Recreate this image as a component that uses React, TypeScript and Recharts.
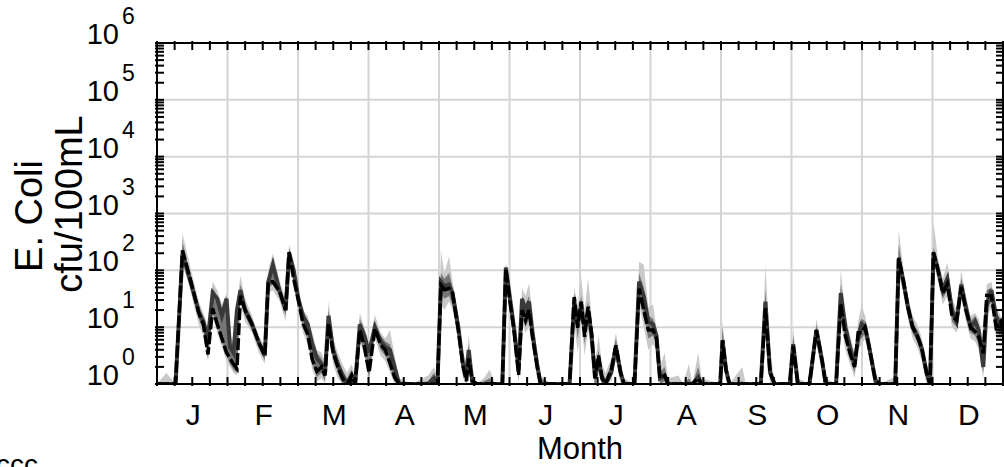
import { ComposedChart, Line, Area, XAxis, YAxis, CartesianGrid } from 'recharts'

const FONT = '"Liberation Sans", Arial, Helvetica, sans-serif'
const DAYS_IN_YEAR = 365

const monthLabels = ['J', 'F', 'M', 'A', 'M', 'J', 'J', 'A', 'S', 'O', 'N', 'D']
const yDecades = [0, 1, 2, 3, 4, 5, 6]

// day of year
const days = [
  0, 4, 8, 11, 13, 15, 18, 20, 22, 24,
  26, 28, 30, 31.5, 33, 34.5, 36, 38, 41, 44,
  46.5, 48, 50, 53, 55.5, 57, 59, 61, 63, 65,
  67, 69, 71, 72.5, 74, 76, 78, 80, 82, 84,
  85.5, 87.5, 89.5, 91.5, 94, 96.5, 98.5, 100.5, 102.5, 104.5,
  110, 117, 119.5, 121, 122.5, 124, 126, 127.5, 130, 132,
  133.5, 134.5, 136, 138, 141, 143.5, 146, 149, 150.5, 152,
  154, 156, 157.5, 159, 160.5, 162, 164, 165.5, 170, 178,
  180, 181.5, 183, 184.5, 186, 187.5, 189, 190.5, 192, 193.5,
  196, 198, 200, 201.5, 206, 208, 210, 212, 214, 215.5,
  217, 219, 220.5, 225, 227, 229.5, 231, 233.5, 235, 243,
  244, 245.5, 247, 252.5, 254, 260.5, 262.5, 264.5, 266.5, 273,
  274.5, 276.5, 281.5, 284.5, 287, 288.5, 293, 295, 297, 299,
  301, 302.5, 304, 305.5, 307.5, 310, 312, 317, 318.5, 320,
  322, 324, 326, 328, 330, 332, 333.5, 335, 337, 339,
  341, 343, 345, 347, 349, 351, 353, 354.5, 356.5, 358,
  360, 362, 364, 365,
]

// log10(cfu/100mL)
const blackLine = [
  0, 0, 0, 2.35, 2.05, 1.75, 1.25, 1.05, 0.52, 1.33,
  1.05, 0.8, 0.55, 0.45, 0.35, 0.27, 1.55, 1.3, 1.05, 0.72,
  0.5, 1.8, 1.8, 1.62, 1.3, 2.32, 1.85, 1.47, 1.06, 0.88,
  0.43, 0.22, 0.3, 0.15, 1.06, 0.55, 0.3, 0.1, 0, 0.15,
  0, 0.95, 0.65, 0.2, 0.97, 0.69, 0.6, 0.37, 0.12, 0,
  0, 0, 0, 0, 1.74, 1.66, 1.68, 1.6, 0.95, 0.31,
  0.05, 0.45, 0.05, 0, 0, 0, 0, 0, 2.03, 1.53,
  0.95, 0.16, 1.3, 1.12, 1.3, 0.83, 0.31, 0, 0, 0,
  1.53, 0.99, 1.45, 0.83, 1.36, 0.9, 0.1, 0.5, 0.1, 0,
  0.25, 0.68, 0.2, 0, 0, 1.68, 1.3, 0.95, 0.95, 0.8,
  0.1, 0.15, 0, 0, 0, 0, 0, 0.1, 0, 0,
  0.77, 0.25, 0, 0, 0, 0, 1.33, 0.2, 0, 0,
  0.67, 0, 0, 0.95, 0.4, 0, 0, 1.41, 0.85, 0.54,
  0.3, 0.9, 0.9, 1.0, 0.6, 0.05, 0, 0, 0, 2.22,
  1.82, 1.35, 1.0, 0.85, 0.62, 0.2, 0, 2.32, 2.0, 1.6,
  1.76, 1.2, 1.12, 1.71, 1.3, 1.0, 0.92, 0.83, 0.54, 1.56,
  1.55, 1.0, 1.1, 0.95,
]

const grayLine = [
  0, 0, 0, 2.3, 2.0, 1.72, 1.28, 1.1, 0.8, 1.6,
  1.5, 1.2, 1.5, 0.65, 0.55, 1.3, 1.65, 1.3, 1.05, 0.72,
  0.5, 1.8, 2.1, 1.62, 1.3, 2.3, 2.0, 1.5, 1.2, 1.05,
  0.7, 0.45, 0.35, 0.2, 1.2, 0.6, 0.35, 0.15, 0, 0.15,
  0, 1.05, 0.85, 0.55, 1.0, 0.75, 0.65, 0.6, 0.3, 0,
  0, 0, 0.1, 0, 1.8, 1.72, 1.75, 1.6, 1.0, 0.35,
  0.2, 0.6, 0.05, 0, 0, 0, 0, 0, 2.05, 1.6,
  1.0, 0.25, 1.5, 1.3, 1.45, 0.9, 0.35, 0, 0, 0,
  1.45, 1.05, 1.4, 0.95, 1.3, 0.85, 0.1, 0.45, 0.1, 0,
  0.2, 0.65, 0.2, 0, 0, 1.8, 1.55, 1.1, 1.05, 0.85,
  0.1, 0.15, 0, 0, 0, 0, 0, 0.12, 0, 0,
  0.77, 0.25, 0, 0, 0, 0, 1.45, 0.2, 0, 0,
  0.7, 0, 0, 0.95, 0.4, 0, 0, 1.6, 1.0, 0.65,
  0.35, 0.8, 1.05, 1.0, 0.6, 0.05, 0, 0, 0, 2.2,
  1.8, 1.35, 1.0, 0.85, 0.62, 0.2, 0, 2.3, 2.0, 1.65,
  1.85, 1.3, 1.1, 1.75, 1.35, 1.0, 1.1, 0.95, 0.3, 1.4,
  1.65, 1.2, 0.95, 1.0,
]

const darkLow = [
  0, 0, 0, 2.2, 1.95, 1.65, 1.15, 0.95, 0.45, 1.25,
  1.0, 0.75, 0.5, 0.35, 0.25, 0.2, 1.5, 1.2, 0.95, 0.65,
  0.42, 1.7, 1.75, 1.55, 1.2, 2.2, 1.8, 1.4, 1.0, 0.8,
  0.35, 0.12, 0.2, 0.05, 0.95, 0.45, 0.2, 0, 0, 0.05,
  0, 0.85, 0.55, 0.1, 0.9, 0.6, 0.5, 0.3, 0.05, 0,
  0, 0, 0, 0, 1.6, 1.5, 1.55, 1.4, 0.85, 0.2,
  0, 0.35, 0, 0, 0, 0, 0, 0, 1.95, 1.4,
  0.85, 0.1, 1.2, 1.0, 1.15, 0.7, 0.2, 0, 0, 0,
  1.35, 0.8, 1.3, 0.7, 1.2, 0.7, -0.1, 0.35, 0, 0,
  0.15, 0.55, 0.1, 0, 0, 1.55, 1.2, 0.8, 0.85, 0.7,
  0, 0.05, 0, 0, 0, 0, 0, 0, 0, 0,
  0.6, 0.15, 0, 0, 0, 0, 1.2, 0.1, 0, 0,
  0.55, 0, 0, 0.85, 0.3, 0, 0, 1.3, 0.75, 0.45,
  0.2, 0.75, 0.8, 0.9, 0.5, 0, 0, 0, 0, 2.1,
  1.7, 1.25, 0.9, 0.75, 0.5, 0.1, 0, 2.2, 1.9, 1.5,
  1.65, 1.1, 1.0, 1.6, 1.2, 0.9, 0.85, 0.7, 0.2, 1.3,
  1.45, 0.9, 0.85, 0.85,
]

const darkHigh = [
  0, 0, 0, 2.5, 2.15, 1.85, 1.35, 1.15, 0.9, 1.7,
  1.55, 1.3, 1.55, 0.75, 0.65, 1.35, 1.75, 1.4, 1.15, 0.8,
  0.6, 1.9, 2.2, 1.7, 1.4, 2.4, 2.05, 1.55, 1.25, 1.1,
  0.8, 0.55, 0.45, 0.3, 1.3, 0.7, 0.45, 0.25, 0.1, 0.25,
  0.05, 1.15, 0.9, 0.65, 1.1, 0.85, 0.75, 0.7, 0.4, 0.05,
  0, 0.05, 0.2, 0.05, 1.95, 1.85, 1.95, 1.7, 1.1, 0.45,
  0.3, 0.7, 0.15, 0, 0.05, 0.1, 0, 0, 2.1, 1.7,
  1.1, 0.35, 1.55, 1.4, 1.55, 1.0, 0.45, 0.1, 0, 0,
  1.6, 1.2, 1.55, 1.1, 1.45, 1.0, 0.25, 0.6, 0.2, 0.1,
  0.35, 0.8, 0.3, 0.05, 0, 1.95, 1.7, 1.2, 1.15, 0.95,
  0.2, 0.3, 0.05, 0, 0, 0.1, 0, 0.3, 0.05, 0,
  1.0, 0.35, 0, 0.05, 0, 0, 1.65, 0.4, 0, 0,
  0.85, 0.05, 0, 1.05, 0.5, 0.05, 0, 1.75, 1.1, 0.75,
  0.45, 1.0, 1.15, 1.1, 0.7, 0.15, 0, 0, 0.05, 2.45,
  1.95, 1.45, 1.1, 0.95, 0.72, 0.3, 0.05, 2.4, 2.1, 1.75,
  1.95, 1.4, 1.2, 1.85, 1.45, 1.1, 1.2, 1.05, 0.65, 1.65,
  1.7, 1.25, 1.15, 1.1,
]

const lightLow = [
  0, 0, 0, 2.1, 1.85, 1.55, 1.05, 0.85, 0.4, 1.2,
  0.9, 0.65, 0.4, 0.3, 0.2, 0.15, 1.4, 1.1, 0.9, 0.55,
  0.35, 1.6, 1.65, 1.45, 1.1, 2.1, 1.7, 1.3, 0.9, 0.7,
  0.25, 0.05, 0.1, 0, 0.85, 0.35, 0.1, 0, 0, 0,
  0, 0.75, 0.5, 0.05, 0.8, 0.5, 0.4, 0.2, 0, 0,
  0, 0, 0, 0, 1.4, 1.3, 1.45, 1.3, 0.75, 0.1,
  0, 0.25, 0, 0, 0, 0, 0, 0, 1.85, 1.3,
  0.75, 0, 1.1, 0.9, 1.0, 0.6, 0.1, 0, 0, 0,
  1.1, 0.55, 1.1, 0.5, 0.95, 0.5, -0.15, 0.2, 0, 0,
  0.05, 0.45, 0, 0, 0, 1.4, 1.0, 0.6, 0.7, 0.6,
  0, 0, 0, 0, 0, 0, 0, 0, 0, 0,
  0.45, 0.05, 0, 0, 0, 0, 1.0, 0, 0, 0,
  0.4, 0, 0, 0.7, 0.2, 0, 0, 1.1, 0.6, 0.35,
  0.1, 0.6, 0.7, 0.8, 0.4, 0, 0, 0, 0, 1.95,
  1.6, 1.15, 0.8, 0.65, 0.4, 0, 0, 2.1, 1.8, 1.4,
  1.55, 1.0, 0.9, 1.5, 1.1, 0.8, 0.75, 0.6, 0.1, 1.2,
  1.35, 0.8, 0.75, 0.75,
]

const lightHigh = [
  0, 0.2, 0, 2.65, 2.3, 1.95, 1.45, 1.25, 1.0, 1.8,
  1.65, 1.4, 1.6, 0.85, 0.75, 1.45, 1.9, 1.5, 1.2, 0.85,
  0.65, 2.0, 2.3, 1.8, 1.5, 2.45, 2.15, 1.6, 1.3, 1.2,
  0.9, 0.6, 0.55, 0.4, 1.45, 0.8, 0.55, 0.35, 0.2, 0.35,
  0.1, 1.25, 1.0, 0.7, 1.22, 0.9, 0.8, 0.95, 0.5, 0.1,
  0, 0.15, 0.3, 0.1, 2.35, 1.95, 2.25, 1.8, 1.2, 0.55,
  0.4, 0.86, 0.2, 0, 0.1, 0.25, 0, 0, 2.15, 1.8,
  1.2, 0.45, 1.68, 1.55, 1.77, 1.25, 0.55, 0.15, 0, 0,
  1.7, 1.4, 1.88, 1.3, 1.85, 1.2, 0.35, 0.86, 0.35, 0.2,
  0.45, 0.9, 0.4, 0.1, 0, 2.15, 2.1, 1.35, 1.4, 1.0,
  0.3, 0.55, 0.1, 0.15, 0, 0.35, 0, 0.55, 0.1, 0,
  1.1, 0.45, 0, 0.3, 0, 0, 2.1, 0.6, 0, 0,
  1.0, 0.1, 0, 1.15, 0.6, 0.1, 0, 2.0, 1.25, 0.85,
  0.55, 1.1, 1.38, 1.2, 0.8, 0.2, 0, 0.1, 0.1, 2.7,
  2.05, 1.55, 1.2, 1.05, 0.8, 0.4, 0.1, 2.85, 2.2, 1.85,
  2.14, 1.5, 1.3, 2.0, 1.55, 1.2, 1.25, 1.15, 0.75, 1.75,
  1.8, 1.35, 1.2, 1.15,
]

const data = days.map((day, i) => ({
  day,
  black: blackLine[i],
  gray: grayLine[i],
  dark: [darkLow[i], darkHigh[i]],
  light: [lightLow[i], lightHigh[i]],
}))

// month boundaries for the grid, quarter-month ticks on the x axes
const monthEdges = monthLabels.map((_, i) => (i * DAYS_IN_YEAR) / 12).slice(1)
const xTicks = Array.from({ length: 49 }, (_, k) => (k * DAYS_IN_YEAR) / 48)
// log minor ticks 2..9 in every decade
const yTicks = yDecades.flatMap((d) =>
  d < 6 ? [d, ...[2, 3, 4, 5, 6, 7, 8, 9].map((m) => d + Math.log10(m))] : [d]
)

const TICK = 9

function BottomTick(props: any) {
  const { x, y, index } = props
  const label = index % 4 === 2 ? monthLabels[(index - 2) / 4] : null
  return (
    <g>
      <line x1={x} y1={y} x2={x} y2={y - TICK} stroke="#000" strokeWidth={2} />
      {label && (
        <text x={x + 1} y={y + 39} textAnchor="middle" fontSize={30} fontFamily={FONT} fill="#000">
          {label}
        </text>
      )}
    </g>
  )
}

function TopTick(props: any) {
  const { x, y } = props
  return <line x1={x} y1={y} x2={x} y2={y + TICK} stroke="#000" strokeWidth={2} />
}

function LeftTick(props: any) {
  const { x, y, payload } = props
  const major = Number.isInteger(payload.value)
  return (
    <g>
      <line x1={x} y1={y} x2={x + TICK} y2={y} stroke="#000" strokeWidth={2} />
      {major && (
        <g fontFamily={FONT} fill="#000">
          <text x={x - 36} y={y + 1} textAnchor="end" fontSize={29}>10</text>
          <text x={x - 33} y={y - 19} textAnchor="start" fontSize={23}>{payload.value}</text>
        </g>
      )}
    </g>
  )
}

function RightTick(props: any) {
  const { x, y } = props
  return <line x1={x} y1={y} x2={x - TICK} y2={y} stroke="#000" strokeWidth={2} />
}

export default function App() {
  return (
    <div style={{ position: 'absolute', left: 0, top: 0, width: 1004, height: 467, background: '#fff' }}>
      <ComposedChart width={1004} height={467} data={data} margin={{ top: 42, right: 0, bottom: 0, left: 0 }}>
        <CartesianGrid
          horizontalValues={[1, 2, 3, 4, 5]}
          verticalValues={monthEdges}
          stroke="#d4d4d4"
          strokeWidth={2}
        />
        <XAxis
          dataKey="day"
          type="number"
          domain={[0, DAYS_IN_YEAR]}
          ticks={xTicks}
          interval={0}
          tickSize={0}
          tick={BottomTick}
          height={83}
          axisLine={{ stroke: '#000', strokeWidth: 2 }}
          allowDataOverflow
        />
        <XAxis
          xAxisId="top"
          orientation="top"
          dataKey="day"
          type="number"
          domain={[0, DAYS_IN_YEAR]}
          ticks={xTicks}
          interval={0}
          tickSize={0}
          tick={TopTick}
          height={1}
          axisLine={{ stroke: '#000', strokeWidth: 2 }}
          allowDataOverflow
        />
        <YAxis
          type="number"
          domain={[0, 6]}
          ticks={yTicks}
          interval={0}
          tickSize={0}
          tick={LeftTick}
          width={157}
          axisLine={{ stroke: '#000', strokeWidth: 2 }}
          allowDataOverflow
        />
        <YAxis
          yAxisId="right"
          orientation="right"
          type="number"
          domain={[0, 6]}
          ticks={yTicks}
          interval={0}
          tickSize={0}
          tick={RightTick}
          width={1}
          axisLine={{ stroke: '#000', strokeWidth: 2 }}
          allowDataOverflow
        />
        <Area dataKey="light" type="linear" stroke="none" fill="#c9c9c9" fillOpacity={1} isAnimationActive={false} />
        <Area dataKey="dark" type="linear" stroke="none" fill="#767676" fillOpacity={1} isAnimationActive={false} />
        <Line dataKey="gray" type="linear" stroke="#3a3a3a" strokeWidth={4} dot={false} isAnimationActive={false} />
        <Line
          dataKey="black"
          type="linear"
          stroke="#000"
          strokeWidth={3.5}
          strokeDasharray="12 3"
          dot={false}
          isAnimationActive={false}
        />
      </ComposedChart>
      <svg
        width={1004}
        height={467}
        style={{ position: 'absolute', left: 0, top: 0, pointerEvents: 'none' }}
        fontFamily={FONT}
      >
        <text transform="translate(42,216) rotate(-90)" textAnchor="middle" fontSize={38} fill="#000">
          E. Coli
        </text>
        <text transform="translate(82,204) rotate(-90)" textAnchor="middle" fontSize={38} fill="#000">
          cfu/100mL
        </text>
        <text x={580} y={459} textAnchor="middle" fontSize={31} fill="#000">
          Month
        </text>
        <text x={-4} y={474} fontSize={28} fill="#000">
          ccc
        </text>
      </svg>
    </div>
  )
}
